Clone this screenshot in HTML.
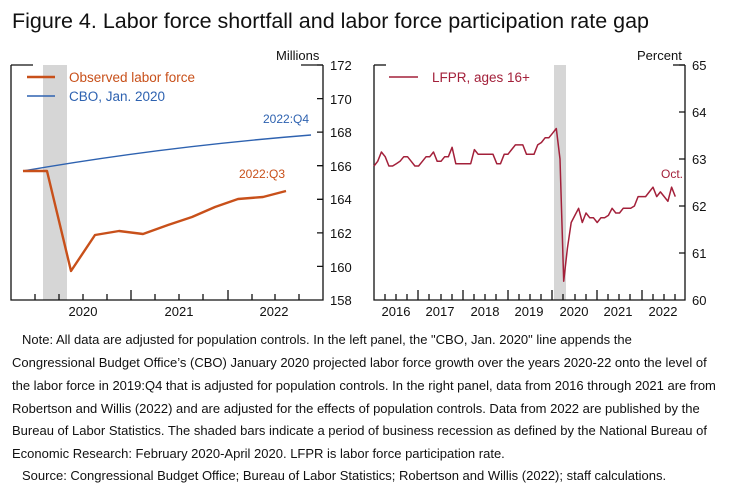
<!DOCTYPE html>
<html><head><meta charset="utf-8"><style>
body{margin:0;background:#fff;width:740px;height:484px;overflow:hidden;font-family:"Liberation Sans",Arial,sans-serif}
svg{position:absolute;left:0;top:0}
.n{position:absolute;font-size:13px;white-space:nowrap;color:#111;line-height:14px}
</style></head><body>
<svg width="740" height="484" font-family="Liberation Sans, Arial, sans-serif">
<text x="12" y="28" font-size="21.5" fill="#111">Figure 4. Labor force shortfall and labor force participation rate gap</text>
<!-- left panel -->
<rect x="43" y="65" width="24" height="235" fill="#d6d6d6"/>
<g stroke="#111" stroke-width="1.3" fill="none">
<path d="M11 65V300H323V65"/><line x1="11" y1="65" x2="33" y2="65"/><line x1="301" y1="65" x2="323" y2="65"/>
<path d="M323 65h-6M323 98.6h-6M323 132.1h-6M323 165.7h-6M323 199.3h-6M323 232.9h-6M323 266.4h-6"/>
<path d="M35 300v-6M59 300v-6M83 300v-6M107 300v-6M131 300v-10M155 300v-6M179 300v-6M203 300v-6M228 300v-10M252 300v-6M275 300v-6M299 300v-6"/>
</g>
<g font-size="13" fill="#111">
<text x="276" y="60">Millions</text>
<text x="330" y="70">172</text><text x="330" y="104">170</text><text x="330" y="137">168</text><text x="330" y="171">166</text><text x="330" y="204">164</text><text x="330" y="238">162</text><text x="330" y="272">160</text><text x="330" y="305">158</text>
<text x="83" y="316" text-anchor="middle">2020</text><text x="179" y="316" text-anchor="middle">2021</text><text x="274" y="316" text-anchor="middle">2022</text>
</g>
<path d="M23 171 Q160 147 311 135" stroke="#2e62b0" stroke-width="1.4" fill="none"/>
<polyline points="23,171 47,171 71,271 95,235 119,231 143,234 168,225 192,217 215,207 238,199 263,197 286,191" stroke="#c8501a" stroke-width="2.4" fill="none" stroke-linejoin="round"/>
<line x1="27" y1="77" x2="55" y2="77" stroke="#c8501a" stroke-width="2.6"/>
<line x1="27" y1="96" x2="55" y2="96" stroke="#2e62b0" stroke-width="1.4"/>
<text x="69" y="82" font-size="13.5" fill="#c8501a">Observed labor force</text>
<text x="69" y="101" font-size="13.5" fill="#2e62b0">CBO, Jan. 2020</text>
<text x="263" y="123" font-size="12" fill="#2e62b0">2022:Q4</text>
<text x="239" y="178" font-size="12" fill="#c8501a">2022:Q3</text>
<!-- right panel -->
<rect x="554" y="65" width="12" height="235" fill="#d6d6d6"/>
<g stroke="#111" stroke-width="1.3" fill="none">
<path d="M374 65V300H685V65"/><line x1="374" y1="65" x2="386" y2="65"/><line x1="673" y1="65" x2="685" y2="65"/>
<path d="M685 65h-6M685 112h-6M685 159h-6M685 206h-6M685 253h-6"/>
<path d="M385 300v-6M396 300v-6M407 300v-6M418 300v-10M429 300v-6M441 300v-6M452 300v-6M463 300v-10M474 300v-6M485 300v-6M496 300v-6M508 300v-10M519 300v-6M530 300v-6M541 300v-6M552 300v-10M563 300v-6M575 300v-6M586 300v-6M597 300v-10M608 300v-6M619 300v-6M630 300v-6M642 300v-10M653 300v-6M664 300v-6M675 300v-6"/>
</g>
<g font-size="13" fill="#111">
<text x="637" y="60">Percent</text>
<text x="692" y="70">65</text><text x="692" y="117">64</text><text x="692" y="164">63</text><text x="692" y="211">62</text><text x="692" y="258">61</text><text x="692" y="305">60</text>
<text x="396" y="316" text-anchor="middle">2016</text><text x="440" y="316" text-anchor="middle">2017</text><text x="485" y="316" text-anchor="middle">2018</text><text x="529" y="316" text-anchor="middle">2019</text><text x="574" y="316" text-anchor="middle">2020</text><text x="618" y="316" text-anchor="middle">2021</text><text x="663" y="316" text-anchor="middle">2022</text>
</g>
<polyline id="lf" stroke="#a3203a" stroke-width="1.5" fill="none" stroke-linejoin="round" points=""/>
<line x1="389" y1="77" x2="418" y2="77" stroke="#a3203a" stroke-width="1.5"/>
<text x="432" y="82" font-size="13.5" fill="#a3203a">LFPR, ages 16+</text>
<text x="661" y="178" font-size="12" fill="#a3203a">Oct.</text>
</svg>
<div class="n" style="left:22px;top:333px">Note: All data are adjusted for population controls. In the left panel, the "CBO, Jan. 2020" line appends the</div>
<div class="n" style="left:12px;top:356px">Congressional Budget Office’s (CBO) January 2020 projected labor force growth over the years 2020-22 onto the level of</div>
<div class="n" style="left:12px;top:379px">the labor force in 2019:Q4 that is adjusted for population controls. In the right panel, data from 2016 through 2021 are from</div>
<div class="n" style="left:12px;top:402px">Robertson and Willis (2022) and are adjusted for the effects of population controls. Data from 2022 are published by the</div>
<div class="n" style="left:12px;top:424px">Bureau of Labor Statistics. The shaded bars indicate a period of business recession as defined by the National Bureau of</div>
<div class="n" style="left:12px;top:447px">Economic Research: February 2020-April 2020. LFPR is labor force participation rate.</div>
<div class="n" style="left:22px;top:469px">Source: Congressional Budget Office; Bureau of Labor Statistics; Robertson and Willis (2022); staff calculations.</div>
<script>
var v=[62.85,62.95,63.15,63.05,62.85,62.85,62.9,62.95,63.05,63.05,62.95,62.85,
62.85,62.95,63.05,63.05,63.15,62.95,62.95,63.05,63.05,63.25,62.9,62.9,
62.9,62.9,62.9,63.2,63.1,63.1,63.1,63.1,63.1,62.9,62.9,63.1,
63.1,63.2,63.3,63.3,63.3,63.1,63.1,63.1,63.3,63.35,63.45,63.45,
63.55,63.65,63.0,60.4,61.1,61.65,61.8,61.95,61.65,61.85,61.75,61.75,
61.65,61.75,61.75,61.8,61.95,61.85,61.85,61.95,61.95,61.95,62.0,62.2,
62.2,62.2,62.3,62.4,62.2,62.3,62.2,62.1,62.4,62.2];
var p=v.map(function(y,i){return (374+3.72*i).toFixed(1)+","+(65+(65-y)*47).toFixed(1)}).join(" ");
document.getElementById("lf").setAttribute("points",p);
</script>
</body></html>
